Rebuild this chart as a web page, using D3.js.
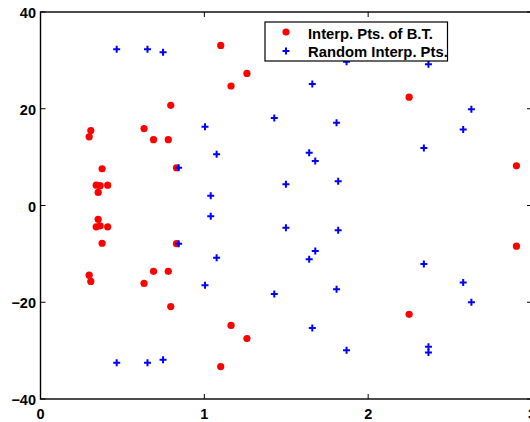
<!DOCTYPE html>
<html lang="en">
<head>
<meta charset="UTF-8">
<title>Interpolation points</title>
<script src="https://d3js.org/d3.v7.min.js"></script>
<style>
    body { margin: 0; background: #fff; }
    svg { display: block; }
    text { font-family: Arial, "Liberation Sans", sans-serif; font-weight: bold; }
</style>
</head>
<body>
<svg width="530" height="422"></svg>
<script>
// Interp. Pts. of B.T. (red dots)
const btX = [0.297, 0.307, 0.376, 0.340, 0.364, 0.410, 0.352, 0.632, 0.690, 0.780, 0.795, 0.830, 1.100, 1.163, 1.260, 2.250, 2.905,
             0.297, 0.307, 0.376, 0.340, 0.364, 0.410, 0.352, 0.632, 0.690, 0.780, 0.795, 0.830, 1.100, 1.163, 1.260, 2.250, 2.905];
const btY = [14.2, 15.5, 7.6, 4.2, 4.1, 4.2, 2.7, 15.9, 13.6, 13.6, 20.7, 7.8, 33.1, 24.7, 27.3, 22.4, 8.2,
             -14.4, -15.7, -7.8, -4.4, -4.2, -4.4, -2.85, -16.1, -13.6, -13.6, -20.9, -7.9, -33.3, -24.8, -27.5, -22.5, -8.4];

// Random Interp. Pts. (blue pluses)
const rndX = [0.465, 0.653, 0.748, 1.004, 1.427, 1.659, 1.807, 1.868, 2.368, 2.368, 2.630, 2.580, 1.075, 1.039, 1.640, 1.677, 1.498, 1.817, 2.340, 0.843,
              0.465, 0.653, 0.748, 1.004, 1.427, 1.659, 1.807, 1.868, 2.368, 2.368, 2.630, 2.580, 1.075, 1.039, 1.640, 1.677, 1.498, 1.817, 2.340, 0.843];
const rndY = [32.3, 32.3, 31.7, 16.3, 18.1, 25.1, 17.1, 29.7, 29.2, 30.4, 19.9, 15.7, 10.6, 2.0, 10.9, 9.2, 4.4, 5.0, 11.9, 7.8,
              -32.5, -32.5, -31.9, -16.5, -18.3, -25.3, -17.3, -29.9, -29.2, -30.4, -20.0, -15.9, -10.8, -2.2, -11.1, -9.4, -4.6, -5.1, -12.1, -7.9];

const xTicks = [0, 1, 2, 3];
const yTicks = [-40, -20, 0, 20, 40];
const legendLabels = ["Interp. Pts. of B.T.", "Random Interp. Pts."];

const svg = d3.select("svg");
const padL = 40.5, padR = 532, padT = 12, padB = 399;

const x = d3.scaleLinear().domain([0, 3]).range([padL, padR]);
const y = d3.scaleLinear().domain([-40, 40]).range([padB, padT]);

// frame + ticks (MATLAB box style)
const g = svg.append("g");
g.append("rect")
    .attr("x", padL).attr("y", padT)
    .attr("width", padR - padL).attr("height", padB - padT)
    .attr("fill", "none").attr("stroke", "#000").attr("stroke-width", 1.4);

xTicks.forEach(t => {
    g.append("line").attr("x1", x(t)).attr("x2", x(t)).attr("y1", padB).attr("y2", padB - 5).attr("stroke", "#000");
    g.append("line").attr("x1", x(t)).attr("x2", x(t)).attr("y1", padT).attr("y2", padT + 5).attr("stroke", "#000");
    g.append("text").attr("x", x(t)).attr("y", padB + 19.5)
        .attr("text-anchor", "middle").attr("font-size", 14.5).text(t);
});
yTicks.forEach(t => {
    g.append("line").attr("x1", padL).attr("x2", padL + 5).attr("y1", y(t)).attr("y2", y(t)).attr("stroke", "#000");
    g.append("line").attr("x1", padR).attr("x2", padR - 5).attr("y1", y(t)).attr("y2", y(t)).attr("stroke", "#000");
    g.append("text").attr("x", padL - 4.5).attr("y", y(t) + 6)
        .attr("text-anchor", "end").attr("font-size", 14.5)
        .text(t < 0 ? "\u2212" + Math.abs(t) : t);
});

// red dots
svg.append("g").selectAll("circle")
    .data(d3.range(btX.length))
    .join("circle")
    .attr("cx", i => x(btX[i]))
    .attr("cy", i => y(btY[i]))
    .attr("r", 3.6)
    .attr("fill", "#ff0000");

// blue pluses
const plus = "M-3.5,0H3.5M0,-3.5V3.5";
svg.append("g").selectAll("path")
    .data(d3.range(rndX.length))
    .join("path")
    .attr("transform", i => `translate(${x(rndX[i])},${y(rndY[i])})`)
    .attr("d", plus)
    .attr("stroke", "#0000ff")
    .attr("stroke-width", 2)
    .attr("fill", "none");

// legend
const lg = svg.append("g");
lg.append("rect")
    .attr("x", 265).attr("y", 22).attr("width", 182.5).attr("height", 39)
    .attr("fill", "#fff").attr("stroke", "#000").attr("stroke-width", 1.2);
lg.append("circle").attr("cx", 286).attr("cy", 32).attr("r", 3.6).attr("fill", "#ff0000");
lg.append("path").attr("transform", "translate(286,51)").attr("d", plus)
    .attr("stroke", "#0000ff").attr("stroke-width", 2);
legendLabels.forEach((s, i) => {
    lg.append("text").attr("x", 308).attr("y", 38.5 + i * 18)
        .attr("font-size", 14.8).text(s);
});
</script>
</body>
</html>
